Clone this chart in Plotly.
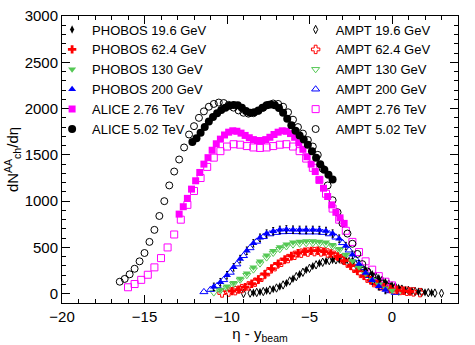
import plotly.graph_objects as go

# PHOBOS (filled) and AMPT (open) at RHIC energies, ALICE + AMPT at LHC
pho196_x = [-8.4, -8.0, -7.6, -7.2, -6.8, -6.4, -6.0, -5.6, -5.2, -4.8, -4.4, -4.0, -3.6, -3.2,
            -2.8, -2.4, -2.0, -1.6, -1.2, -0.8, -0.4, 0.0, 0.4, 0.8, 1.2, 1.6, 2.0, 2.4]
pho196_y = [10, 20, 32, 50, 78, 115, 162, 210, 258, 298, 330, 352, 365, 370,
            362, 338, 302, 258, 212, 168, 125, 90, 62, 42, 30, 21, 15, 10]

pho624_x = [-9.7, -9.3, -8.9, -8.5, -8.1, -7.7, -7.3, -6.9, -6.5, -6.1, -5.7, -5.3, -4.9, -4.5,
            -4.1, -3.7, -3.3, -2.9, -2.5, -2.1, -1.7, -1.3, -0.9, -0.5, -0.1, 0.3, 0.7, 1.1]
pho624_y = [28, 45, 72, 108, 155, 212, 272, 325, 370, 408, 438, 455, 463, 465,
            455, 435, 402, 357, 303, 248, 195, 145, 102, 72, 52, 40, 32, 24]

pho130_x = [-10.4, -10.0, -9.6, -9.2, -8.8, -8.4, -8.0, -7.6, -7.2, -6.8, -6.4, -6.0, -5.6, -5.2,
            -4.8, -4.4, -4.0, -3.6, -3.2, -2.8, -2.4, -2.0, -1.6, -1.2, -0.8, -0.4, 0.0]
pho130_y = [45, 80, 120, 165, 220, 285, 350, 415, 465, 505, 535, 555, 565, 570,
            570, 565, 555, 530, 485, 425, 355, 285, 215, 150, 100, 60, 35]

pho200_x = [-10.8, -10.4, -10.0, -9.6, -9.2, -8.8, -8.4, -8.0, -7.6, -7.2, -6.8, -6.4, -6.0, -5.6,
            -5.2, -4.8, -4.4, -4.0, -3.6, -3.2, -2.8, -2.4, -2.0, -1.6, -1.2, -0.8, -0.4]
pho200_y = [75, 125, 200, 285, 375, 465, 545, 605, 650, 675, 690, 695, 692, 690,
            690, 690, 688, 678, 650, 595, 515, 420, 320, 225, 145, 80, 40]
pho200_err = [40] * len(pho200_x)

alice276_x = [-12.90, -12.65, -12.40, -12.15, -11.90, -11.65, -11.40, -11.15, -10.90, -10.65,
              -10.40, -10.15, -9.90, -9.65, -9.40, -9.15, -8.90, -8.65, -8.40, -8.15, -7.90,
              -7.65, -7.40, -7.15, -6.90, -6.65, -6.40, -6.15, -5.90, -5.65, -5.40, -5.15,
              -4.90, -4.65, -4.40, -4.15, -3.90, -3.65, -3.40, -3.15, -2.90]
alice276_y = [860, 940, 1030, 1130, 1220, 1310, 1400, 1470, 1550, 1620,
              1670, 1715, 1745, 1760, 1755, 1735, 1710, 1685, 1665, 1655, 1655,
              1665, 1690, 1720, 1745, 1760, 1755, 1730, 1690, 1630, 1560, 1480,
              1400, 1320, 1230, 1140, 1050, 960, 880, 820, 760]

alice502_x = [-12.10, -11.85, -11.60, -11.35, -11.10, -10.85, -10.60, -10.35, -10.10, -9.85,
              -9.60, -9.35, -9.10, -8.85, -8.60, -8.35, -8.10, -7.85, -7.60, -7.35, -7.10,
              -6.85, -6.60, -6.35, -6.10, -5.85, -5.60, -5.35, -5.10, -4.85, -4.60, -4.35,
              -4.10, -3.85, -3.60]
alice502_y = [1640, 1680, 1740, 1800, 1860, 1910, 1950, 1985, 2010, 2030,
              2040, 2035, 2010, 1975, 1955, 1960, 1980, 2010, 2035, 2045, 2035,
              2005, 1955, 1890, 1820, 1760, 1710, 1665, 1610, 1540, 1470, 1400,
              1340, 1285, 1235]

ampt196_x = [-9.0, -8.6, -8.2, -7.8, -7.4, -7.0, -6.6, -6.2, -5.8, -5.4, -5.0, -4.6, -4.2, -3.8,
             -3.4, -3.0, -2.6, -2.2, -1.8, -1.4, -1.0, -0.6, -0.2, 0.2, 0.6, 1.0, 1.4, 1.8,
             2.2, 2.6, 3.0]
ampt196_y = [3, 7, 14, 24, 40, 62, 95, 138, 185, 232, 275, 312, 340, 358,
             366, 364, 348, 318, 280, 235, 190, 145, 105, 75, 50, 35, 25, 17,
             11, 7, 5]

ampt624_x = [-10.3, -9.9, -9.5, -9.1, -8.7, -8.3, -7.9, -7.5, -7.1, -6.7, -6.3, -5.9, -5.5, -5.1,
             -4.7, -4.3, -3.9, -3.5, -3.1, -2.7, -2.3, -1.9, -1.5, -1.1, -0.7, -0.3, 0.1, 0.5,
             0.9, 1.3, 1.7]
ampt624_y = [8, 18, 33, 55, 85, 125, 178, 238, 292, 340, 380, 415, 438, 450,
             455, 452, 440, 415, 378, 330, 275, 220, 168, 120, 85, 60, 45, 35,
             27, 20, 12]

ampt130_x = [-10.8, -10.4, -10.0, -9.6, -9.2, -8.8, -8.4, -8.0, -7.6, -7.2, -6.8, -6.4, -6.0, -5.6,
             -5.2, -4.8, -4.4, -4.0, -3.6, -3.2, -2.8, -2.4, -2.0, -1.6, -1.2, -0.8, -0.4, 0.0, 0.4]
ampt130_y = [12, 35, 65, 105, 150, 200, 260, 325, 390, 440, 480, 510, 530, 540,
             545, 545, 540, 530, 510, 470, 415, 345, 275, 210, 150, 100, 62, 38, 18]

ampt200_x = [-11.4, -11.0, -10.6, -10.2, -9.8, -9.4, -9.0, -8.6, -8.2, -7.8, -7.4, -7.0, -6.6, -6.2,
             -5.8, -5.4, -5.0, -4.6, -4.2, -3.8, -3.4, -3.0, -2.6, -2.2, -1.8, -1.4, -1.0, -0.6,
             -0.2, 0.2]
ampt200_y = [20, 45, 85, 150, 230, 320, 410, 495, 565, 615, 645, 660, 668, 670,
             668, 665, 665, 665, 660, 645, 610, 550, 470, 375, 280, 195, 120, 65,
             30, 12]

ampt276_x = [-16.0, -15.6, -15.2, -14.8, -14.4, -14.0, -13.6, -13.2, -12.8, -12.4, -12.0, -11.6,
             -11.2, -10.8, -10.4, -10.0, -9.6, -9.2, -8.8, -8.4, -8.0, -7.6, -7.2, -6.8, -6.4,
             -6.0, -5.6, -5.2, -4.8, -4.4, -4.0, -3.6, -3.2, -2.8, -2.4, -2.0, -1.6, -1.2,
             -0.8, -0.4, 0.0]
ampt276_y = [70, 105, 150, 205, 285, 385, 500, 640, 800, 960, 1110, 1250,
             1370, 1470, 1540, 1590, 1615, 1610, 1595, 1580, 1575, 1580, 1595, 1610, 1615,
             1590, 1540, 1460, 1360, 1230, 1080, 920, 800, 680, 560, 450, 350, 260,
             190, 130, 90]

ampt502_x = [-16.5, -16.2, -15.9, -15.6, -15.3, -15.0, -14.7, -14.4, -14.1, -13.8, -13.5, -13.2,
             -12.9, -12.6, -12.3, -12.0, -11.7, -11.4, -11.1, -10.8, -10.5, -10.2, -9.9, -9.6,
             -9.3, -9.0, -8.7, -8.4, -8.1, -7.8, -7.5, -7.2, -6.9, -6.6, -6.3, -6.0, -5.7,
             -5.4, -5.1, -4.8, -4.5, -4.2, -3.9, -3.6, -3.3, -3.0, -2.7, -2.4, -2.1, -1.8,
             -1.5, -1.2, -0.9, -0.6, -0.3]
ampt502_y = [130, 160, 210, 270, 350, 440, 560, 690, 840, 1000, 1170, 1320,
             1450, 1580, 1720, 1810, 1900, 1970, 2020, 2050, 2065, 2060, 2040, 2010,
             1980, 1955, 1945, 1950, 1975, 2010, 2040, 2055, 2050, 2020, 1960, 1880, 1800,
             1730, 1660, 1590, 1500, 1350, 1170, 1010, 880, 760, 650, 540, 430, 320,
             240, 185, 145, 110, 80]

GREEN = "#55c855"

fig = go.Figure()

# model curves first, data on top
ampt = [
    ("AMPT 19.6 GeV", ampt196_x, ampt196_y, "diamond-tall-open", "black", 6),
    ("AMPT 62.4 GeV", ampt624_x, ampt624_y, "cross-open", "red", 7),
    ("AMPT 130 GeV", ampt130_x, ampt130_y, "triangle-down-open", GREEN, 7),
    ("AMPT 200 GeV", ampt200_x, ampt200_y, "triangle-up-open", "blue", 7),
    ("AMPT 2.76 TeV", ampt276_x, ampt276_y, "square-open", "magenta", 7),
    ("AMPT 5.02 TeV", ampt502_x, ampt502_y, "circle-open", "black", 7),
]
for name, xs, ys, sym, col, sz in ampt:
    fig.add_trace(go.Scatter(x=xs, y=ys, mode="markers", name=name, legend="legend2",
                             marker=dict(symbol=sym, color=col, size=sz, line=dict(width=1, color=col))))

# black error ticks of the 200 GeV data (kept out of the legend)
fig.add_trace(go.Scatter(x=pho200_x, y=pho200_y, mode="markers", showlegend=False,
                         marker=dict(size=1, opacity=0),
                         error_y=dict(type="data", array=pho200_err, color="black", thickness=1, width=1)))

data = [
    ("PHOBOS 19.6 GeV", pho196_x, pho196_y, "diamond-tall", "black", 6),
    ("PHOBOS 62.4 GeV", pho624_x, pho624_y, "cross", "red", 7),
    ("PHOBOS 130 GeV", pho130_x, pho130_y, "triangle-down", GREEN, 7),
    ("PHOBOS 200 GeV", pho200_x, pho200_y, "triangle-up", "blue", 7),
    ("ALICE 2.76 TeV", alice276_x, alice276_y, "square", "magenta", 7),
    ("ALICE 5.02 TeV", alice502_x, alice502_y, "circle", "black", 8),
]
for name, xs, ys, sym, col, sz in data:
    fig.add_trace(go.Scatter(x=xs, y=ys, mode="markers", name=name, legend="legend",
                             marker=dict(symbol=sym, color=col, size=sz, line=dict(width=0))))

axis_common = dict(
    showline=True, linecolor="black", linewidth=1, mirror="allticks",
    ticks="inside", ticklen=8, tickcolor="black", showgrid=False, zeroline=False,
    tickfont=dict(size=15, color="black"),
)

fig.update_xaxes(range=[-20, 4], tick0=-20, dtick=5,
                 minor=dict(ticks="inside", dtick=1, ticklen=4, tickcolor="black"),
                 title=dict(text="η - y<sub>beam</sub>", font=dict(size=15), standoff=0),
                 **axis_common)
fig.update_yaxes(range=[-100, 3000], tick0=0, dtick=500,
                 minor=dict(ticks="inside", dtick=100, ticklen=4, tickcolor="black"),
                 title=dict(text="dN<sup>AA</sup><sub>ch</sub>/dη", font=dict(size=15), standoff=2),
                 **axis_common)

legend_common = dict(bgcolor="rgba(0,0,0,0)", borderwidth=0, font=dict(size=13, color="black"),
                     xanchor="left", yanchor="top")
fig.update_layout(
    width=475, height=345,
    margin=dict(l=62, r=17, t=16, b=42, autoexpand=False),
    plot_bgcolor="white", paper_bgcolor="white",
    font=dict(family="Liberation Sans, Arial, sans-serif", color="black"),
    legend=dict(x=-0.025, y=1.005, **legend_common),
    legend2=dict(x=0.59, y=1.005, **legend_common),
)

# the page's default body margin would shift the fixed-size figure by 8px
fig.write_html("out.html", config={"displayModeBar": False},
               post_script="document.body.style.margin='0';")
